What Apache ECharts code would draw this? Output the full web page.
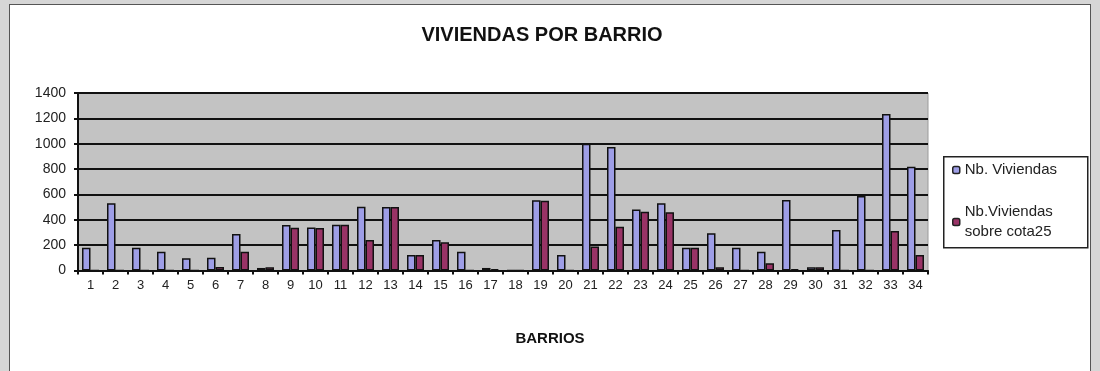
<!DOCTYPE html>
<html>
<head>
<meta charset="utf-8">
<script src="https://cdn.jsdelivr.net/npm/echarts@6/dist/echarts.min.js"></script>
<style>
  html, body { margin: 0; padding: 0; background: #d6d6d6; }
  #frame { position: absolute; left: 9px; top: 4px; width: 1082px; height: 380px;
           background: #ffffff; border: 1px solid #555; box-sizing: border-box; }
  #chart { position: absolute; left: 0; top: 0; width: 1100px; height: 371px; }
</style>
</head>
<body>
<div id="frame"></div>
<div id="chart"></div>
<script>
// Barrios 1..34
const barrios = ['1','2','3','4','5','6','7','8','9','10','11','12','13','14','15','16','17',
                 '18','19','20','21','22','23','24','25','26','27','28','29','30','31','32','33','34'];
// Total dwellings per barrio
const viviendas = [180, 530, 180, 148, 96, 100, 288, 20, 359, 340, 360, 503, 500, 122, 240, 148, 20,
                   0, 555, 122, 1000, 975, 482, 530, 180, 293, 180, 148, 556, 25, 320, 588, 1234, 819];
// Dwellings above elevation 25
const sobreCota = [0, 0, 0, 0, 0, 28, 148, 25, 338, 335, 360, 240, 500, 122, 222, 0, 10,
                   0, 550, 0, 190, 345, 463, 460, 180, 25, 0, 57, 10, 25, 0, 0, 311, 122];
const yTicks = [0, 200, 400, 600, 800, 1000, 1200, 1400];

const chart = echarts.init(document.getElementById('chart'), null, { renderer: 'canvas' });
const font = 'Liberation Sans, Arial, sans-serif';

chart.setOption({
  animation: false,
  backgroundColor: 'transparent',
  title: {
    text: 'VIVIENDAS POR BARRIO',
    left: 537, top: 20, textAlign: 'center',
    textStyle: { fontFamily: font, fontSize: 20, fontWeight: 'bold', color: '#111' }
  },
  // legend frame
  graphic: [{
    type: 'rect', left: 943, top: 156, z: 0,
    shape: { width: 144, height: 91 },
    style: { fill: '#ffffff', stroke: '#222', lineWidth: 1.5 }
  }],
  legend: {
    orient: 'vertical',
    left: 952, top: 160, z: 10,
    padding: 0,
    itemWidth: 7, itemHeight: 7, itemGap: 22,
    textStyle: { fontFamily: font, fontSize: 15, color: '#222', lineHeight: 20 },
    data: [
      { name: 'Nb. Viviendas', itemStyle: { borderColor: '#222', borderWidth: 1.5 } },
      { name: 'Nb.Viviendas\nsobre cota25', itemStyle: { borderColor: '#222', borderWidth: 1.5 } }
    ]
  },
  grid: { left: 78, right: 172, top: 93, bottom: 100.5, show: true,
          backgroundColor: '#c3c3c3', borderColor: '#9a9a9a', borderWidth: 1 },
  xAxis: {
    type: 'category',
    data: barrios,
    name: 'BARRIOS', nameLocation: 'middle', nameGap: 61,
    nameTextStyle: { fontFamily: font, fontSize: 15, fontWeight: 'bold', color: '#111', padding: [0, 0, 0, 94] },
    axisLine: { lineStyle: { color: '#111', width: 2 } },
    axisTick: { show: true, alignWithLabel: false, length: 4, lineStyle: { color: '#111', width: 2 } },
    axisLabel: { fontFamily: font, fontSize: 13, color: '#222', margin: 8 }
  },
  yAxis: {
    type: 'value',
    min: 0, max: 1400, interval: 200,
    axisLine: { show: true, lineStyle: { color: '#111', width: 2 } },
    axisTick: { show: true, inside: false, length: 4, lineStyle: { color: '#111', width: 2 } },
    axisLabel: { fontFamily: font, fontSize: 14, color: '#222', margin: 12,
                 formatter: v => yTicks.includes(v) ? String(v) : '' },
    splitLine: { lineStyle: { color: '#111', width: 2 } }
  },
  series: [
    { name: 'Nb. Viviendas', type: 'bar', data: viviendas,
      barGap: '0%', barCategoryGap: '32%',
      itemStyle: { color: '#9e9ee6', borderColor: '#111', borderWidth: 1.5 } },
    { name: 'Nb.Viviendas\nsobre cota25', type: 'bar', data: sobreCota,
      itemStyle: { color: '#993366', borderColor: '#111', borderWidth: 1.5 } }
  ]
});
</script>
</body>
</html>
